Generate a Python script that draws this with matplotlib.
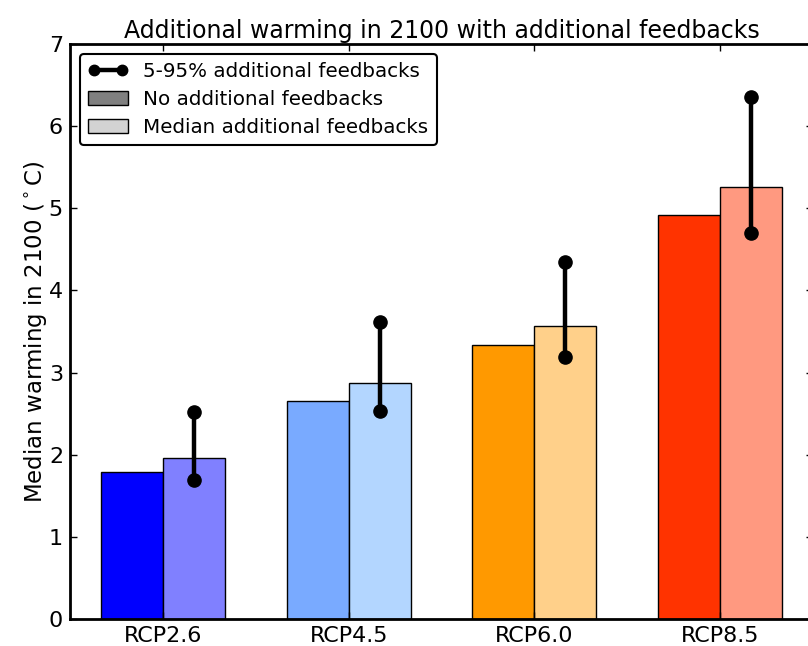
import matplotlib
matplotlib.use("Agg")
import matplotlib.pyplot as plt
from matplotlib.lines import Line2D
from matplotlib.patches import Patch
import numpy as np

scenarios = ["RCP2.6", "RCP4.5", "RCP6.0", "RCP8.5"]
no_feedback = [1.79, 2.66, 3.34, 4.92]
median_feedback = [1.96, 2.87, 3.57, 5.26]
p5_feedback = [1.69, 2.53, 3.19, 4.70]
p95_feedback = [2.52, 3.62, 4.35, 6.36]
colors_no = ["#0000FF", "#79AAFF", "#FF9900", "#FF3300"]
colors_med = ["#8080FF", "#B3D6FF", "#FFD08A", "#FF9980"]
title = "Additional warming in 2100 with additional feedbacks"
ylabel = "Median warming in 2100 ($^\\circ$C)"
legend_labels = ["5-95% additional feedbacks", "No additional feedbacks", "Median additional feedbacks"]

plt.rcParams['font.family'] = ['DejaVu Sans']
plt.rcParams['mathtext.fontset'] = 'dejavusans'

fig = plt.figure(figsize=(8.08, 6.46), dpi=100)
W, H = 808, 646
left, right, top, bottom = 70, 813, 44, 619
ax = fig.add_axes([left / W, 1 - bottom / H, (right - left) / W, (bottom - top) / H])

x = np.arange(len(scenarios))
w = 1 / 3
for i in range(len(scenarios)):
    ax.bar(x[i] - w / 2, no_feedback[i], width=w, color=colors_no[i], edgecolor='black', linewidth=1)
    ax.bar(x[i] + w / 2, median_feedback[i], width=w, color=colors_med[i], edgecolor='black', linewidth=1)
    ax.plot([x[i] + w / 2, x[i] + w / 2], [p5_feedback[i], p95_feedback[i]], color='black', lw=3.2,
            marker='o', ms=9.5, zorder=5)

ax.set_xlim(-0.5, 3.5)
ax.set_ylim(0, 7)
ax.set_xticks(x)
ax.set_xticklabels(scenarios, fontsize=16)
ax.set_yticks(range(0, 8))
ax.tick_params(axis='y', labelsize=16)
ax.tick_params(direction='in', length=5, width=1, top=True, right=True, bottom=True, left=True)
ax.tick_params(axis='x', pad=5)
ax.tick_params(axis='y', pad=5)
for s in ax.spines.values():
    s.set_linewidth(2)
ax.set_title(title, fontsize=17, pad=4)
ax.set_ylabel(ylabel, fontsize=16.5, labelpad=0)

handles = [Line2D([0], [0], color='black', lw=3.2, marker='o', ms=7.5),
           Patch(facecolor='#808080', edgecolor='black'),
           Patch(facecolor='#D3D3D3', edgecolor='black')]
leg = ax.legend(handles, legend_labels, loc='upper left', fontsize=14.3, numpoints=2,
                fancybox=True, framealpha=1, edgecolor='black', handlelength=2.0,
                handleheight=0.75, handletextpad=0.8, borderaxespad=0.5, labelspacing=0.45)
leg.get_frame().set_linewidth(1.5)

fig.savefig("out.png", dpi=100, facecolor='white')
